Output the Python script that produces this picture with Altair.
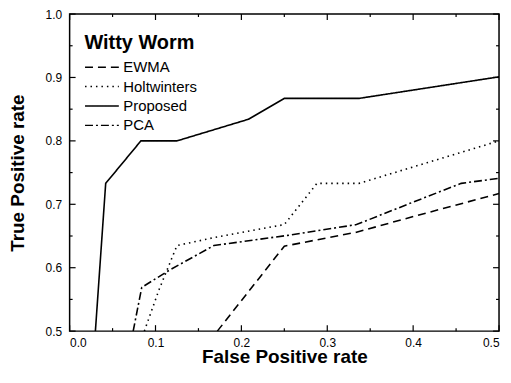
import altair as alt
import pandas as pd

FONT = "Liberation Sans"

series = ["EWMA", "Holtwinters", "Proposed", "PCA"]

ewma_fpr = [0.172, 0.25, 0.334, 0.401, 0.5]
ewma_tpr = [0.5, 0.634, 0.656, 0.681, 0.717]

holt_fpr = [0.087, 0.104, 0.125, 0.17, 0.25, 0.288, 0.337, 0.5]
holt_tpr = [0.5, 0.565, 0.635, 0.648, 0.668, 0.733, 0.733, 0.8]

prop_fpr = [0.030, 0.042, 0.083, 0.125, 0.208, 0.25, 0.337, 0.5]
prop_tpr = [0.5, 0.733, 0.8, 0.8, 0.834, 0.867, 0.867, 0.901]

pca_fpr = [0.074, 0.084, 0.116, 0.168, 0.254, 0.334, 0.401, 0.456, 0.5]
pca_tpr = [0.5, 0.569, 0.596, 0.635, 0.651, 0.668, 0.704, 0.733, 0.741]

x_major = [0.0, 0.1, 0.2, 0.3, 0.4, 0.5]
x_minor = [0.05, 0.15, 0.25, 0.35, 0.45]
y_major = [0.5, 0.6, 0.7, 0.8, 0.9, 1.0]
y_minor = [0.55, 0.65, 0.75, 0.85, 0.95]

dashes = [[8, 5], [1.5, 4], [1, 0], [8, 3, 2, 3]]

rows = []
for name, xs, ys in [("EWMA", ewma_fpr, ewma_tpr), ("Holtwinters", holt_fpr, holt_tpr),
                     ("Proposed", prop_fpr, prop_tpr), ("PCA", pca_fpr, pca_tpr)]:
    for i, (a, b) in enumerate(zip(xs, ys)):
        rows.append({"series": name, "fpr": a, "tpr": b, "idx": i})
df = pd.DataFrame(rows)

W, H = 432, 319
x_scale = alt.Scale(domain=[0, 0.5], nice=False, zero=False)
y_scale = alt.Scale(domain=[0.5, 1.0], nice=False, zero=False)

x_axis = alt.Axis(values=x_major, format=".1f", title="False Positive rate",
                  ticks=False, tickSize=0, domain=False, grid=False,
                  labelPadding=6, titlePadding=0)
y_axis = alt.Axis(values=y_major, format=".1f", title="True Positive rate",
                  ticks=False, tickSize=0, domain=False, grid=False,
                  labelPadding=8, titlePadding=18)

legend = alt.Legend(
    title="Witty Worm", orient="none", legendX=15, legendY=19,
    titleFont=FONT, titleFontSize=20, titleFontWeight="bold", titleColor="black",
    titlePadding=7, labelFont=FONT, labelFontSize=15, labelColor="black",
    labelOffset=24, symbolType="M-3.5,0H13.5", symbolSize=16,
    symbolStrokeColor="black", symbolStrokeWidth=1.5, rowPadding=3.5, padding=0,
)

lines = alt.Chart(df).mark_line(clip=True, strokeWidth=1.6, color="black").encode(
    x=alt.X("fpr:Q", scale=x_scale, axis=x_axis),
    y=alt.Y("tpr:Q", scale=y_scale, axis=y_axis),
    strokeDash=alt.StrokeDash("series:N", scale=alt.Scale(domain=series, range=dashes),
                              legend=legend),
    detail="series:N",
    order="idx:Q",
)


def xticks(vals, length, top):
    d = pd.DataFrame({"fpr": vals})
    if top:
        y, y2 = alt.value(0), alt.value(length)
    else:
        y, y2 = alt.value(H), alt.value(H - length)
    return alt.Chart(d).mark_rule(color="black", strokeWidth=1.2).encode(
        x=alt.X("fpr:Q", scale=x_scale, axis=x_axis), y=y, y2=y2)


def yticks(vals, length, right):
    d = pd.DataFrame({"tpr": vals})
    if right:
        x, x2 = alt.value(W), alt.value(W - length)
    else:
        x, x2 = alt.value(0), alt.value(length)
    return alt.Chart(d).mark_rule(color="black", strokeWidth=1.2).encode(
        y=alt.Y("tpr:Q", scale=y_scale, axis=y_axis), x=x, x2=x2)


layers = [lines]
for top in (False, True):
    layers.append(xticks(x_major, 6, top))
    layers.append(xticks(x_minor, 3, top))
for right in (False, True):
    layers.append(yticks(y_major, 6, right))
    layers.append(yticks(y_minor, 3, right))

chart = alt.layer(*layers).properties(
    width=W, height=H,
    autosize=alt.AutoSizeParams(type="none"),
    padding={"left": 62, "top": 5, "right": 4, "bottom": 34},
    background="white",
).configure_view(stroke="black", strokeWidth=1.5).configure_axis(
    labelFont=FONT, labelFontSize=12, labelColor="black",
    titleFont=FONT, titleFontSize=19, titleFontWeight="bold", titleColor="black",
)

chart.save("out.html", embed_options={"renderer": "svg", "actions": False})
